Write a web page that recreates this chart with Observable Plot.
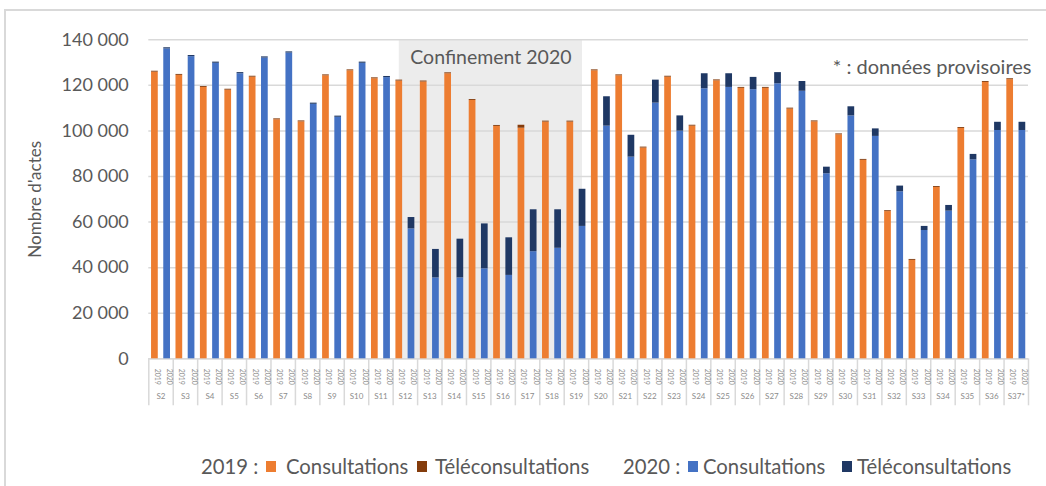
<!DOCTYPE html>
<html>
<head>
<meta charset="utf-8">
<script src="https://cdn.jsdelivr.net/npm/d3@7"></script>
<script src="https://cdn.jsdelivr.net/npm/@observablehq/plot@0.6"></script>
<style>
  body { margin: 0; background: #fff; font-family: Lato, "Open Sans", sans-serif; }
  #wrap { position: relative; width: 1046px; height: 486px; overflow: hidden; background: #fff; }
  #frame { position: absolute; left: 4px; top: 9px; width: 1100px; height: 600px;
           border-left: 2px solid #d9d9d9; border-top: 2px solid #d9d9d9; }
  #chart { position: absolute; left: 0; top: 0; }
  #legend { position: absolute; top: 452px; left: 0; width: 1046px; height: 28px;
            font-size: 20.3px; line-height: 28px; color: #595959; white-space: nowrap; }
  .it { position: absolute; top: 0; }
  .sw { position: absolute; top: 9px; width: 10px; height: 11px; }
</style>
</head>
<body>
<div id="wrap">
  <div id="frame"></div>
  <div id="chart"></div>
  <div id="legend"></div>
</div>
<script>
// ---- Data (in number of acts) ----
const weeks = ["S2","S3","S4","S5","S6","S7","S8","S9","S10","S11","S12","S13","S14","S15","S16","S17","S18","S19",
               "S20","S21","S22","S23","S24","S25","S26","S27","S28","S29","S30","S31","S32","S33","S34","S35","S36","S37*"];
const years = ["2019", "2020"];

const consultations2019 = [125800,124400,119100,117900,123600,104900,104000,124200,126400,122900,121900,121500,125100,113400,102000,101200,103900,103900,
                           126400,124200,92500,123600,102100,122000,118700,118700,109600,104000,98300,87100,64600,43200,75200,101100,121300,122500];
const tele2019 = [400,400,400,400,400,400,400,400,400,400,400,400,400,400,400,1300,400,400,
                  400,400,400,400,400,400,400,400,400,400,400,400,400,400,400,400,400,400];

const consultations2020 = [136000,132600,129700,125100,132000,134200,111700,106000,129700,123400,57000,35500,35500,39500,36600,47000,48500,58100,
                           102100,88500,112200,99900,118500,119100,118100,120700,117400,81200,106600,97600,73300,56300,64800,87300,100200,100200];
const tele2020 = [500,500,500,500,500,500,500,500,500,500,5000,12500,17000,19700,16500,18400,16900,16300,
                  12900,9600,10100,6700,6600,6000,5400,4900,4300,2900,4000,3300,2500,1800,2500,2400,3600,3600];

const kinds = ["2019 Consultations", "2019 Téléconsultations", "2020 Consultations", "2020 Téléconsultations"];
const kindColors = ["#ED7D31", "#843C0C", "#4472C4", "#1F3864"];

const yTicks = [0, 20000, 40000, 60000, 80000, 100000, 120000, 140000];
const confinementLabel = "Confinement 2020";
const confinementFrom = ["S12", "2019"];
const confinementTo = ["S19", "2020"];
const noteLabel = "* : données provisoires";
const yLabel = "Nombre d'actes";

// ---- Build table ----
const rows = [];
const yearLabels = [];
weeks.forEach((w, k) => {
  years.forEach((yr, j) => {
    const i = 2 * k + j;
    const c = yr === "2019" ? consultations2019[k] : consultations2020[k];
    const t = yr === "2019" ? tele2019[k] : tele2020[k];
    rows.push({i, week: w, year: yr, kind: yr + " Consultations", y1: 0, y2: c});
    rows.push({i, week: w, year: yr, kind: yr + " Téléconsultations", y1: c, y2: c + t});
    yearLabels.push({i, year: yr});
  });
});
const idx = (w, yr) => 2 * weeks.indexOf(w) + years.indexOf(yr);
const bounds = d3.range(weeks.length + 1).map(k => 2 * k - 0.5);
const weekRows = weeks.map((w, k) => ({w, c: 2 * k + 0.5}));
const half = 0.275;
const fmt = d => d3.format(",")(d).replace(/,/g, " ");

const chart = Plot.plot({
  width: 1046,
  height: 420,
  marginLeft: 148.3,
  marginRight: 18,
  marginTop: 39.3,
  marginBottom: 61.7,
  x: {domain: [-0.5, 2 * weeks.length - 0.5]},
  y: {domain: [0, 140000]},
  color: {domain: kinds, range: kindColors},
  style: {fontFamily: "Lato, 'Open Sans', sans-serif", background: "transparent", overflow: "visible"},
  marks: [
    Plot.rect([{a: idx(...confinementFrom), b: idx(...confinementTo)}],
      {x1: "a", x2: "b", y1: () => 0, y2: () => 140000, fill: "#ececec"}),
    Plot.gridY({ticks: yTicks, stroke: "#d9d9d9", strokeOpacity: 1, strokeWidth: 1.5}),
    Plot.axisY({ticks: yTicks, tickSize: 0, tickPadding: 20, tickFormat: fmt, fontSize: 18, fill: "#595959", label: null}),
    Plot.axisX({ticks: bounds, tickSize: 47, tickFormat: () => "", stroke: "#d9d9d9", strokeWidth: 1.5, strokeOpacity: 1, label: null}),
    Plot.ruleY([0], {stroke: "#d9d9d9", strokeWidth: 1.5}),
    Plot.rectY(rows, {x1: d => d.i - half, x2: d => d.i + half, y1: "y1", y2: "y2", fill: "kind"}),
    Plot.text(yearLabels, {x: "i", text: "year", frameAnchor: "bottom", dy: 18, rotate: 90, fontSize: 7, fill: "#8c8c8c"}),
    Plot.text(weekRows, {x: "c", text: "w", frameAnchor: "bottom", dy: 40, fontSize: 8, fill: "#8c8c8c"}),
    Plot.text([confinementLabel], {x: () => (idx(...confinementFrom) + idx(...confinementTo)) / 2, y: () => 140000,
      text: d => d, dy: 18, fontSize: 19.5, fill: "#595959"}),
    Plot.text([noteLabel], {frameAnchor: "top-right", text: d => d, textAnchor: "end", dx: 3, dy: 20, fontSize: 20, fill: "#595959"}),
    Plot.text([yLabel], {frameAnchor: "left", text: d => d, textAnchor: "middle", dx: -113, rotate: -90, fontSize: 17, fill: "#595959"})
  ]
});
document.getElementById("chart").appendChild(chart);

// ---- Legend ----
const legend = document.getElementById("legend");
const legendItems = [
  {text: "2019 :", left: 201},
  {swatch: kindColors[0], left: 266},
  {text: "Consultations", left: 286},
  {swatch: kindColors[1], left: 417},
  {text: "Téléconsultations", left: 435},
  {text: "2020 :", left: 623},
  {swatch: kindColors[2], left: 688},
  {text: "Consultations", left: 703},
  {swatch: kindColors[3], left: 842},
  {text: "Téléconsultations", left: 857}
];
legendItems.forEach(it => {
  const s = document.createElement("span");
  s.style.left = it.left + "px";
  if (it.swatch) { s.className = "sw"; s.style.background = it.swatch; }
  else { s.className = "it"; s.textContent = it.text; }
  legend.appendChild(s);
});
</script>
</body>
</html>
